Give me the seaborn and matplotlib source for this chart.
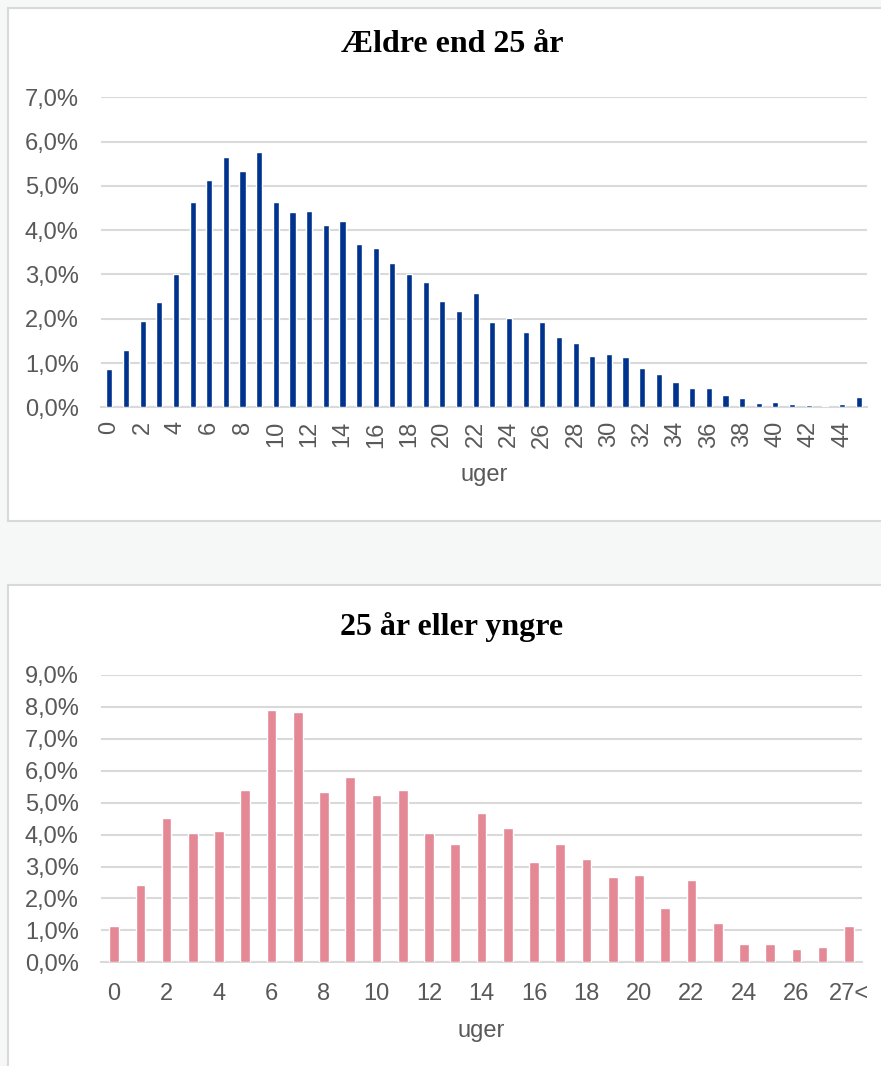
import matplotlib
matplotlib.use("Agg")
import matplotlib.pyplot as plt
import matplotlib.patches as mpatches
from matplotlib.ticker import FuncFormatter
import seaborn as sns
import pandas as pd

# andel (%) pr. uge - ældre end 25 år
weeks_old = [str(i) for i in range(46)]
share_old = [0.87, 1.29, 1.95, 2.38, 3.02, 4.64, 5.14, 5.66, 5.33, 5.76,
             4.63, 4.42, 4.44, 4.11, 4.20, 3.68, 3.59, 3.26, 3.02, 2.84,
             2.41, 2.18, 2.57, 1.92, 2.02, 1.69, 1.92, 1.58, 1.45, 1.16,
             1.20, 1.14, 0.88, 0.76, 0.57, 0.43, 0.44, 0.28, 0.20, 0.09,
             0.12, 0.08, 0.06, 0.03, 0.075, 0.23]

# andel (%) pr. uge - 25 år eller yngre
weeks_young = [str(i) for i in range(28)] + ["27<"]
share_young = [1.13, 2.42, 4.52, 4.04, 4.11, 5.41, 7.90, 7.83, 5.32, 5.80,
               5.25, 5.41, 4.04, 3.72, 4.68, 4.20, 3.15, 3.72, 3.24, 2.66,
               2.73, 1.70, 2.58, 1.22, 0.57, 0.57, 0.41, 0.49, 1.13]

W, H = 881, 1066
grid_col = "#d9d9d9"
txt_col = "#595959"

sns.set_theme(style="white")
plt.rcParams["font.family"] = ["Liberation Sans", "DejaVu Sans"]

fig = plt.figure(figsize=(W / 100, H / 100), dpi=100)
fig.patch.set_facecolor("#f6f8f8")

# hvide kort bag de to diagrammer
for (y0, y1) in [(8, 521), (585, 1075)]:
    fig.patches.append(mpatches.Rectangle((8 / W, 1 - y1 / H), 1.2, (y1 - y0) / H,
                                          transform=fig.transFigure, facecolor="white",
                                          edgecolor=grid_col, linewidth=1.5, zorder=-5))

pct = FuncFormatter(lambda v, p: f"{v:.1f}%".replace(".", ","))


def draw(ax, weeks, share, color, ymax, rot, title, title_y, xpad, lpad):
    df = pd.DataFrame({"uge": weeks, "andel": share})
    sns.barplot(data=df, x="uge", y="andel", color=color, width=0.37,
                saturation=1, ax=ax, zorder=3)
    ax.set_facecolor("none")
    ax.set_xlim(-0.5, len(weeks) - 0.5)
    ax.set_ylim(0, ymax)
    ax.set_yticks(range(0, ymax + 1))
    ax.yaxis.set_major_formatter(pct)
    ax.set_xticks(range(0, len(weeks), 2))
    ax.set_xticklabels(weeks[::2], rotation=rot)
    ax.grid(axis="y", color=grid_col, linewidth=1.5, zorder=0)
    ax.set_axisbelow(True)
    for s in ["top", "right", "left"]:
        ax.spines[s].set_visible(False)
    ax.spines["bottom"].set_color(grid_col)
    ax.spines["bottom"].set_linewidth(1.5)
    ax.tick_params(length=0, labelsize=17, labelcolor=txt_col)
    ax.tick_params(axis="y", pad=16)
    ax.tick_params(axis="x", pad=xpad)
    ax.set_ylabel("")
    ax.set_xlabel("uger", fontsize=17, color=txt_col, labelpad=lpad)
    fig.text(452 / W, 1 - title_y / H, title, ha="center", va="center", color="black",
             fontsize=23, fontweight="bold", family=["Liberation Serif", "DejaVu Serif"])


ax1 = fig.add_axes([101 / W, 1 - 407.3 / H, 766 / W, 310 / H])
draw(ax1, weeks_old, share_old, "#00338d", 7, 90, "Ældre end 25 år", 45, 10, 12)

ax2 = fig.add_axes([101 / W, 1 - 962.3 / H, 761 / W, 287.3 / H])
draw(ax2, weeks_young, share_young, "#e48896", 9, 0, "25 år eller yngre", 627, 15, 11)

fig.savefig("out.png", dpi=100, facecolor=fig.get_facecolor())
